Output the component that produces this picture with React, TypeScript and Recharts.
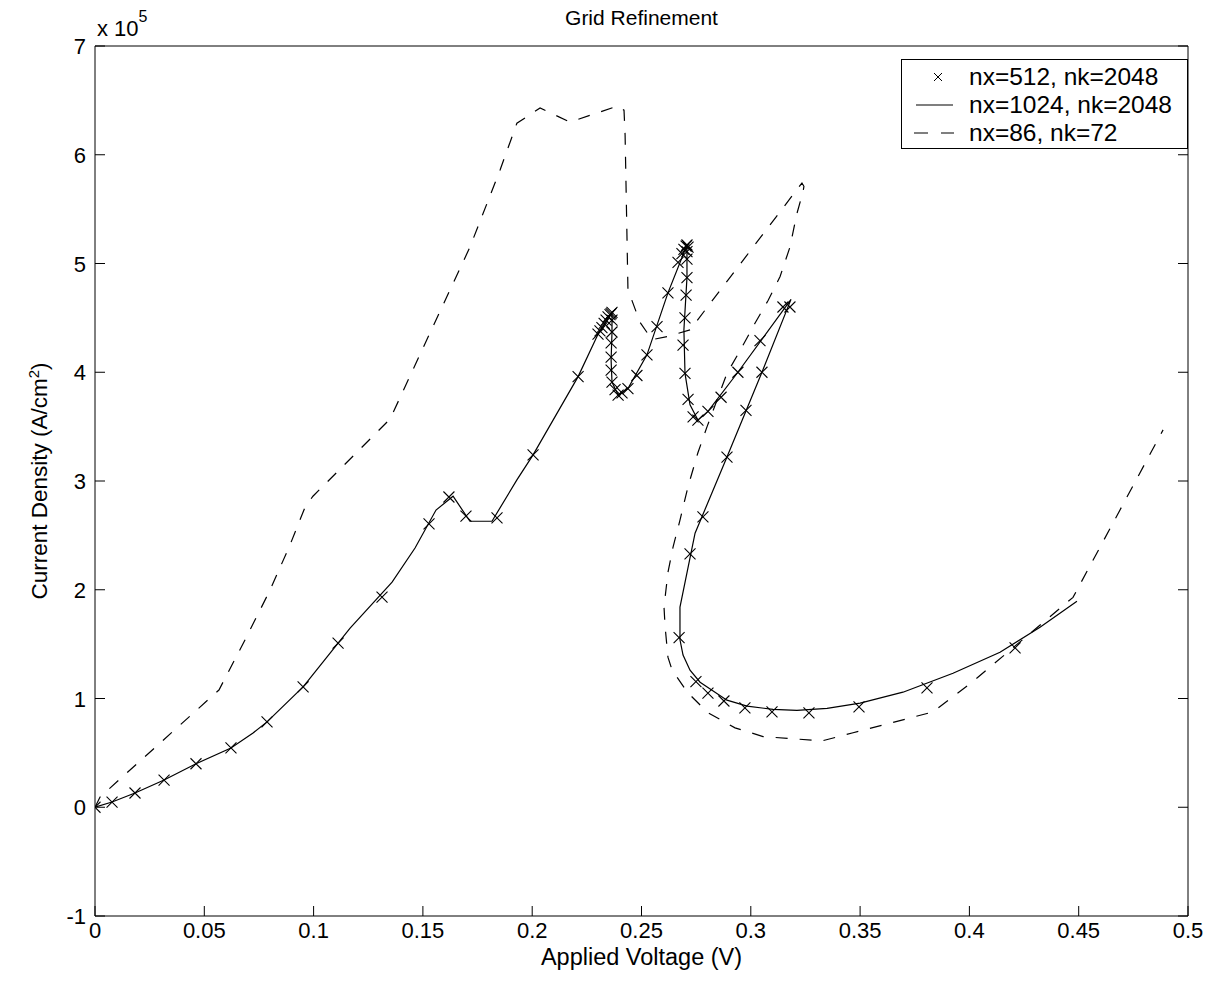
import React from "react";
import { LineChart, Line, XAxis, YAxis, Legend } from "recharts";

const FONT = "'Liberation Sans', Arial, Helvetica, sans-serif";

const xTicks = [0, 0.05, 0.1, 0.15, 0.2, 0.25, 0.3, 0.35, 0.4, 0.45, 0.5];
const yTicks = [-1, 0, 1, 2, 3, 4, 5, 6, 7];
const seriesNames = ["nx=512, nk=2048", "nx=1024, nk=2048", "nx=86, nk=72"];

// [applied voltage (V), current density (x1e5 A/cm^2)]
const nx512 = [
  [0, 0], [0.0078, 0.048], [0.0183, 0.131], [0.0316, 0.25], [0.0462, 0.4],
  [0.0622, 0.545], [0.0787, 0.785], [0.0952, 1.107], [0.1112, 1.51], [0.1313, 1.933],
  [0.1528, 2.605], [0.1619, 2.853], [0.1697, 2.678], [0.1839, 2.66], [0.2004, 3.24],
  [0.221, 3.96], [0.2301, 4.35], [0.231, 4.38], [0.2319, 4.41], [0.2329, 4.45],
  [0.2338, 4.48], [0.2347, 4.51], [0.2356, 4.53], [0.2361, 4.54], [0.2365, 4.55],
  [0.2365, 4.48], [0.2365, 4.37], [0.2361, 4.27], [0.2361, 4.14], [0.2361, 4.02],
  [0.2365, 3.91], [0.2379, 3.84], [0.2393, 3.79], [0.2411, 3.81], [0.2438, 3.85],
  [0.2479, 3.97], [0.2525, 4.16], [0.2571, 4.42], [0.2621, 4.73], [0.2667, 5.01],
  [0.2685, 5.09], [0.2694, 5.13], [0.2704, 5.16], [0.2708, 5.17], [0.2713, 5.15],
  [0.2708, 5.11], [0.2708, 5.04], [0.2708, 4.87], [0.2704, 4.71], [0.2699, 4.5],
  [0.269, 4.25], [0.2699, 3.99], [0.2713, 3.75], [0.2736, 3.59], [0.2758, 3.56],
  [0.2804, 3.64], [0.2864, 3.77], [0.2941, 4.0], [0.3042, 4.29], [0.3147, 4.6],
  [0.3179, 4.6], [0.3051, 4.0], [0.2978, 3.65], [0.2891, 3.22], [0.2781, 2.67],
  [0.2722, 2.33], [0.2672, 1.56], [0.2749, 1.155], [0.2804, 1.05], [0.2877, 0.977],
  [0.2973, 0.913], [0.3097, 0.876], [0.3266, 0.867], [0.3495, 0.922], [0.3806, 1.097],
  [0.4209, 1.465],
];

const nx1024 = [
  [0, 0], [0.0078, 0.048], [0.0183, 0.131], [0.0316, 0.25], [0.0462, 0.4],
  [0.0622, 0.545], [0.0723, 0.683], [0.0787, 0.785], [0.0952, 1.107], [0.1112, 1.51],
  [0.1167, 1.648], [0.1359, 2.07], [0.1464, 2.384], [0.156, 2.733], [0.1638, 2.86],
  [0.1715, 2.63], [0.1816, 2.63], [0.193, 3.01], [0.2004, 3.24], [0.221, 3.96],
  [0.2301, 4.35], [0.2365, 4.55], [0.2365, 4.37], [0.2361, 4.11], [0.2365, 3.91],
  [0.2393, 3.79], [0.2438, 3.85], [0.2525, 4.16], [0.2621, 4.73], [0.2708, 5.17],
  [0.2708, 4.87], [0.2694, 4.39], [0.2699, 3.99], [0.2722, 3.7], [0.2758, 3.56],
  [0.2804, 3.64], [0.2941, 4.0], [0.3184, 4.67], [0.3051, 4.0], [0.2891, 3.22],
  [0.2745, 2.52], [0.2676, 1.84], [0.2676, 1.54], [0.269, 1.4], [0.2722, 1.26],
  [0.2768, 1.15], [0.2891, 0.985], [0.2983, 0.93], [0.3102, 0.9], [0.3211, 0.89],
  [0.3349, 0.91], [0.35, 0.957], [0.3696, 1.058], [0.3925, 1.232], [0.414, 1.425],
  [0.4323, 1.655], [0.4492, 1.895],
];

const nx86 = [
  [0, 0], [0.0023, 0.094], [0.0567, 1.078], [0.0686, 1.538], [0.0801, 1.998],
  [0.0892, 2.412], [0.0961, 2.76], [0.0997, 2.86], [0.135, 3.57], [0.1532, 4.36],
  [0.1715, 5.15], [0.1853, 5.86], [0.193, 6.29], [0.2036, 6.43], [0.2173, 6.3],
  [0.2393, 6.45], [0.242, 6.41], [0.2425, 6.18], [0.2438, 4.76], [0.2493, 4.46],
  [0.2548, 4.3], [0.2621, 4.33], [0.2722, 4.39], [0.3234, 5.74], [0.3243, 5.71],
  [0.3239, 5.66], [0.3211, 5.46], [0.3179, 5.15], [0.3134, 4.88], [0.3079, 4.66],
  [0.3019, 4.45], [0.2951, 4.2], [0.2891, 3.99], [0.28, 3.5], [0.2758, 3.26],
  [0.2713, 2.95], [0.2676, 2.64], [0.2644, 2.39], [0.2621, 2.16], [0.2603, 1.84],
  [0.2608, 1.66], [0.2621, 1.38], [0.264, 1.26], [0.2713, 1.05], [0.2804, 0.87],
  [0.2928, 0.73], [0.3056, 0.65], [0.3326, 0.61], [0.3468, 0.685], [0.3833, 0.876],
  [0.4012, 1.15], [0.4474, 1.93], [0.4886, 3.47],
];

const toRows = (pts: number[][]) => pts.map(([v, j]) => ({ v, j }));

const TICK_LEN = 10;

const crossPath = (cx: number, cy: number, s: number) =>
  `M${cx - s},${cy - s}L${cx + s},${cy + s}M${cx - s},${cy + s}L${cx + s},${cy - s}`;

const Cross = (props: any) => {
  const { cx, cy, index } = props;
  if (cx == null || cy == null) return <g key={`c${index}`} />;
  return <path key={`c${index}`} d={crossPath(cx, cy, 5.5)} stroke="#000" strokeWidth={1.1} fill="none" />;
};

// tick marks point into the plot box, labels sit outside
const BottomTick = (props: any) => {
  const { x, y, payload } = props;
  const axisY = y - 6;
  return (
    <g>
      <line x1={x} x2={x} y1={axisY} y2={axisY - TICK_LEN} stroke="#000" />
      <text x={x} y={y} dy={16} textAnchor="middle" fontSize={22} fill="#000" fontFamily={FONT}>
        {payload.value}
      </text>
    </g>
  );
};

const LeftTick = (props: any) => {
  const { x, y, payload } = props;
  const axisX = x + 9;
  return (
    <g>
      <line x1={axisX} x2={axisX + TICK_LEN} y1={y} y2={y} stroke="#000" />
      <text x={x} y={y} dy={8} textAnchor="end" fontSize={22} fill="#000" fontFamily={FONT}>
        {payload.value}
      </text>
    </g>
  );
};

const TopTick = (props: any) => {
  const { x, y } = props;
  return <line x1={x} x2={x} y1={y} y2={y + TICK_LEN} stroke="#000" />;
};

const RightTick = (props: any) => {
  const { x, y } = props;
  return <line x1={x} x2={x - TICK_LEN} y1={y} y2={y} stroke="#000" />;
};

const LegendBox = () => (
  <div
    style={{
      width: 287,
      height: 90,
      border: "1px solid #000",
      background: "#fff",
      boxSizing: "border-box",
      fontFamily: FONT,
      fontSize: 24.5,
      color: "#000",
      paddingTop: 3,
    }}
  >
    {seriesNames.map((name, i) => (
      <div key={name} style={{ display: "flex", alignItems: "center", height: 28 }}>
        <svg width={67} height={28} style={{ flex: "none" }}>
          {i === 0 && <path d={crossPath(36, 14, 4)} stroke="#000" strokeWidth={1} fill="none" />}
          {i === 1 && <line x1={14} x2={51} y1={14} y2={14} stroke="#000" strokeWidth={1.2} />}
          {i === 2 && <line x1={12} x2={52} y1={14} y2={14} stroke="#000" strokeWidth={1.2} strokeDasharray="14 13" />}
        </svg>
        <span style={{ lineHeight: "28px", whiteSpace: "nowrap" }}>{name}</span>
      </div>
    ))}
  </div>
);

const YLabel = (props: any) => {
  const vb = props.viewBox || {};
  const cy = (vb.y ?? 46) + (vb.height ?? 870) / 2;
  const x = 47;
  return (
    <g>
      <text x={x} y={cy} transform={`rotate(-90 ${x} ${cy})`} textAnchor="middle" fontSize={22.5} fill="#000" fontFamily={FONT}>
        Current Density (A/cm
        <tspan dy={-8} fontSize={15}>2</tspan>
        <tspan dy={8}>)</tspan>
      </text>
      <text x={97} y={36} fontSize={22} fill="#000" fontFamily={FONT}>
        x 10
        <tspan dy={-14} fontSize={16}>5</tspan>
      </text>
    </g>
  );
};

export default function App() {
  return (
    <div style={{ position: "absolute", left: 0, top: 0, width: 1223, height: 986, background: "#fff" }}>
      <LineChart
        width={1223}
        height={986}
        margin={{ top: 45, right: 34, bottom: 0, left: 0 }}
        style={{ fontFamily: FONT }}
      >
        <XAxis
          dataKey="v"
          type="number"
          domain={[0, 0.5]}
          ticks={xTicks}
          allowDataOverflow
          height={70}
          tickSize={0}
          tickMargin={6}
          tickLine={false}
          stroke="#000"
          tick={BottomTick}
          label={{ value: "Applied Voltage (V)", position: "insideBottom", offset: 21, fill: "#000", fontSize: 23.5, fontFamily: FONT }}
        />
        <XAxis
          xAxisId="top"
          orientation="top"
          type="number"
          domain={[0, 0.5]}
          ticks={xTicks}
          allowDataOverflow
          height={1}
          tickSize={0}
          tickMargin={0}
          tickLine={false}
          tick={TopTick}
          stroke="#000"
          label={{ value: "Grid Refinement", position: "top", offset: 20, fill: "#000", fontSize: 21, fontFamily: FONT }}
        />
        <YAxis
          dataKey="j"
          type="number"
          domain={[-1, 7]}
          ticks={yTicks}
          allowDataOverflow
          width={95}
          tickSize={0}
          tickMargin={9}
          tickLine={false}
          stroke="#000"
          tick={LeftTick}
          label={<YLabel />}
        />
        <YAxis
          yAxisId="right"
          orientation="right"
          type="number"
          domain={[-1, 7]}
          ticks={yTicks}
          allowDataOverflow
          width={1}
          tickSize={0}
          tickMargin={0}
          tickLine={false}
          tick={RightTick}
          stroke="#000"
        />
        <Legend
          layout="vertical"
          align="center"
          verticalAlign="middle"
          content={<LegendBox />}
          wrapperStyle={{ left: 901, top: 59, width: 287 }}
        />
        <Line
          data={toRows(nx86)}
          dataKey="j"
          name={seriesNames[2]}
          type="linear"
          stroke="#000"
          strokeWidth={1.2}
          strokeDasharray="12 12"
          dot={false}
          isAnimationActive={false}
        />
        <Line
          data={toRows(nx1024)}
          dataKey="j"
          name={seriesNames[1]}
          type="linear"
          stroke="#000"
          strokeWidth={1.2}
          dot={false}
          isAnimationActive={false}
        />
        <Line
          data={toRows(nx512)}
          dataKey="j"
          name={seriesNames[0]}
          type="linear"
          stroke="none"
          strokeWidth={0}
          dot={Cross}
          activeDot={false}
          isAnimationActive={false}
        />
      </LineChart>
    </div>
  );
}
